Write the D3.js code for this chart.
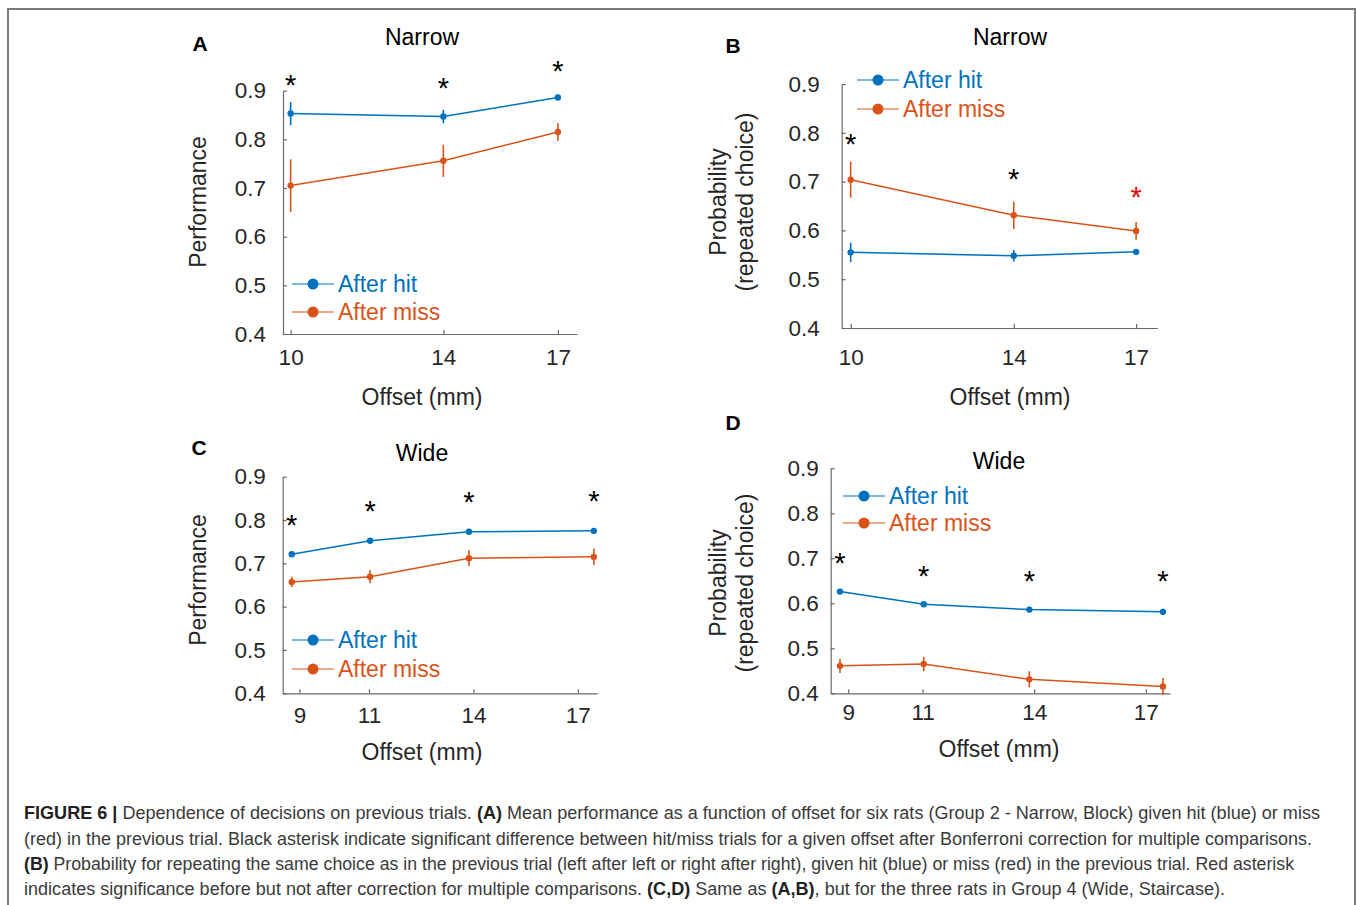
<!DOCTYPE html>
<html>
<head>
<meta charset="utf-8">
<script src="https://cdn.jsdelivr.net/npm/d3@7"></script>
<style>
  body { margin: 0; background: #fff; }
  svg { display: block; font-family: "Liberation Sans", Arial, Helvetica, sans-serif; }
</style>
</head>
<body>
<div id="chart"></div>
<script>
// offsets (mm)
const narrowOffsets = [10, 14, 17];
const wideOffsets = [8.78, 11.03, 13.87, 17.46];
const narrowTicks = [10, 14, 17];
const wideTicks = [9, 11, 14, 17];
const yTicks = [0.4, 0.5, 0.6, 0.7, 0.8, 0.9];

// A: performance, narrow
const perfNarrowHit = [0.853, 0.847, 0.886];
const perfNarrowHitErr = [0.024, 0.014, 0.003];
const perfNarrowMiss = [0.705, 0.756, 0.815];
const perfNarrowMissErr = [0.054, 0.033, 0.018];
const perfNarrowStars = [0.918, 0.912, 0.947];

// B: probability of repeated choice, narrow
const repNarrowHit = [0.555, 0.548, 0.556];
const repNarrowHitErr = [0.02, 0.012, 0.003];
const repNarrowMiss = [0.704, 0.631, 0.599];
const repNarrowMissErr = [0.037, 0.028, 0.018];
const repNarrowStars = [0.784, 0.711, 0.674];
const repNarrowStarColors = ["#000", "#000", "#e8000b"];

// C: performance, wide
const perfWideHit = [0.721, 0.752, 0.773, 0.775];
const perfWideHitErr = [0.004, 0.004, 0.004, 0.004];
const perfWideMiss = [0.657, 0.669, 0.712, 0.715];
const perfWideMissErr = [0.012, 0.015, 0.018, 0.019];
const perfWideStars = [0.796, 0.827, 0.849, 0.852];

// D: probability of repeated choice, wide
const repWideHit = [0.626, 0.598, 0.586, 0.581];
const repWideHitErr = [0.006, 0.005, 0.006, 0.007];
const repWideMiss = [0.461, 0.465, 0.431, 0.415];
const repWideMissErr = [0.016, 0.016, 0.018, 0.019];
const repWideStars = [0.696, 0.668, 0.657, 0.656];

const blue = "#0072bd";
const orange = "#d95319";
const axisColor = "#6a6a6a";
const textColor = "#262626";

const width = 1357, height = 905;
const svg = d3.select("#chart").append("svg")
  .attr("width", width)
  .attr("height", height);

// figure frame
svg.append("rect")
  .attr("x", 8).attr("y", 9)
  .attr("width", 1347).attr("height", 960)
  .attr("fill", "none")
  .attr("stroke", "#7a7a7a")
  .attr("stroke-width", 2);

const panels = [
  {
    letter: "A", lx: 200, ly: 44, title: "Narrow", tx: 422, ty: 37,
    left: 283, right: 577, top: 90.7, bottom: 334, xDomain: [9.8, 17.5],
    xs: narrowOffsets, ticks: narrowTicks,
    hit: perfNarrowHit, hitErr: perfNarrowHitErr, miss: perfNarrowMiss, missErr: perfNarrowMissErr,
    stars: perfNarrowStars, starColors: null,
    ylab: ["Performance"], ylabX: [198], ylabY: 202,
    xlabX: 422, xlabY: 397, xPad: 15, yPad: 17,
    legX: 292, legY: [284, 312]
  },
  {
    letter: "B", lx: 733, ly: 46, title: "Narrow", tx: 1010, ty: 37,
    left: 841.7, right: 1157.3, top: 84, bottom: 328, xDomain: [9.78, 17.52],
    xs: narrowOffsets, ticks: narrowTicks,
    hit: repNarrowHit, hitErr: repNarrowHitErr, miss: repNarrowMiss, missErr: repNarrowMissErr,
    stars: repNarrowStars, starColors: repNarrowStarColors,
    ylab: ["Probability", "(repeated choice)"], ylabX: [718, 745], ylabY: 202,
    xlabX: 1010, xlabY: 397, xPad: 21, yPad: 22,
    legX: 857, legY: [80, 109]
  },
  {
    letter: "C", lx: 199, ly: 448, title: "Wide", tx: 422, ty: 453,
    left: 282.7, right: 597, top: 476.7, bottom: 693.3, xDomain: [8.52, 17.55],
    xs: wideOffsets, ticks: wideTicks,
    hit: perfWideHit, hitErr: perfWideHitErr, miss: perfWideMiss, missErr: perfWideMissErr,
    stars: perfWideStars, starColors: null,
    ylab: ["Performance"], ylabX: [198], ylabY: 580,
    xlabX: 422, xlabY: 752, xPad: 14, yPad: 17,
    legX: 292, legY: [640, 669]
  },
  {
    letter: "D", lx: 733, ly: 423, title: "Wide", tx: 999, ty: 461,
    left: 830.7, right: 1170, top: 468.3, bottom: 693.3, xDomain: [8.53, 17.65],
    xs: wideOffsets, ticks: wideTicks,
    hit: repWideHit, hitErr: repWideHitErr, miss: repWideMiss, missErr: repWideMissErr,
    stars: repWideStars, starColors: null,
    ylab: ["Probability", "(repeated choice)"], ylabX: [718, 745], ylabY: 583,
    xlabX: 999, xlabY: 749, xPad: 11, yPad: 12,
    legX: 843, legY: [496, 523]
  }
];

panels.forEach(p => {
  const g = svg.append("g");
  const x = d3.scaleLinear().domain(p.xDomain).range([p.left, p.right]);
  const y = d3.scaleLinear().domain([0.4, 0.9]).range([p.bottom, p.top]);

  // axes
  const xAxis = g.append("g")
    .attr("transform", `translate(0,${p.bottom})`)
    .call(d3.axisBottom(x).tickValues(p.ticks).tickSizeInner(-4).tickSizeOuter(0).tickPadding(p.xPad));
  const yAxis = g.append("g")
    .attr("transform", `translate(${p.left},0)`)
    .call(d3.axisLeft(y).tickValues(yTicks).tickFormat(d3.format(".1f")).tickSizeInner(-4).tickSizeOuter(0).tickPadding(p.yPad));
  [xAxis, yAxis].forEach(a => {
    a.select(".domain").attr("stroke", axisColor).attr("stroke-width", 1.2);
    a.selectAll(".tick line").attr("stroke", axisColor).attr("stroke-width", 1.2);
    a.selectAll(".tick text")
      .attr("fill", textColor)
      .style("font-size", "22.5px")
      .style("font-family", "Liberation Sans, Arial, sans-serif");
  });

  // series
  const series = [
    { vals: p.hit, err: p.hitErr, color: blue },
    { vals: p.miss, err: p.missErr, color: orange }
  ];
  const line = d3.line().x(d => x(d[0])).y(d => y(d[1]));
  series.forEach(s => {
    const pts = p.xs.map((xv, i) => [xv, s.vals[i], s.err[i]]);
    g.append("path")
      .datum(pts)
      .attr("d", line)
      .attr("fill", "none")
      .attr("stroke", s.color)
      .attr("stroke-width", 1.5);
    g.selectAll(null)
      .data(pts)
      .enter()
      .append("line")
      .attr("x1", d => x(d[0])).attr("x2", d => x(d[0]))
      .attr("y1", d => y(d[1] - d[2])).attr("y2", d => y(d[1] + d[2]))
      .attr("stroke", s.color)
      .attr("stroke-width", 1.6);
    g.selectAll(null)
      .data(pts)
      .enter()
      .append("circle")
      .attr("cx", d => x(d[0]))
      .attr("cy", d => y(d[1]))
      .attr("r", 3.2)
      .attr("fill", s.color);
  });

  // significance asterisks
  g.selectAll(null)
    .data(p.stars)
    .enter()
    .append("text")
    .attr("x", (d, i) => x(p.xs[i]))
    .attr("y", d => y(d))
    .attr("dy", "0.45em")
    .attr("text-anchor", "middle")
    .attr("fill", (d, i) => p.starColors ? p.starColors[i] : "#000")
    .style("font-size", "29px")
    .text("*");

  // legend
  const legend = [["After hit", blue], ["After miss", orange]];
  legend.forEach((l, i) => {
    const ly = p.legY[i];
    g.append("line")
      .attr("x1", p.legX).attr("x2", p.legX + 42)
      .attr("y1", ly).attr("y2", ly)
      .attr("stroke", l[1]).attr("stroke-width", 1.2);
    g.append("circle")
      .attr("cx", p.legX + 21).attr("cy", ly).attr("r", 5.5)
      .attr("fill", l[1]);
    g.append("text")
      .attr("x", p.legX + 46).attr("y", ly)
      .attr("dy", "0.35em")
      .attr("fill", l[1])
      .style("font-size", "23px")
      .text(l[0]);
  });

  // titles and labels
  g.append("text")
    .attr("x", p.tx).attr("y", p.ty).attr("dy", "0.35em")
    .attr("text-anchor", "middle")
    .attr("fill", "#000")
    .style("font-size", "23px")
    .text(p.title);
  g.append("text")
    .attr("x", p.lx).attr("y", p.ly).attr("dy", "0.35em")
    .attr("text-anchor", "middle")
    .attr("fill", "#000")
    .style("font-size", "21px")
    .style("font-weight", "bold")
    .text(p.letter);
  g.append("text")
    .attr("x", p.xlabX).attr("y", p.xlabY).attr("dy", "0.35em")
    .attr("text-anchor", "middle")
    .attr("fill", textColor)
    .style("font-size", "23px")
    .text("Offset (mm)");
  p.ylab.forEach((t, i) => {
    g.append("text")
      .attr("transform", `translate(${p.ylabX[i]},${p.ylabY}) rotate(-90)`)
      .attr("dy", "0.35em")
      .attr("text-anchor", "middle")
      .attr("fill", textColor)
      .style("font-size", "23px")
      .text(t);
  });
});

// caption
const captionLines = [
  [["FIGURE 6 | ", true], ["Dependence of decisions on previous trials. ", false], ["(A)", true], [" Mean performance as a function of offset for six rats (Group 2 - Narrow, Block) given hit (blue) or miss", false]],
  [["(red) in the previous trial. Black asterisk indicate significant difference between hit/miss trials for a given offset after Bonferroni correction for multiple comparisons.", false]],
  [["(B)", true], [" Probability for repeating the same choice as in the previous trial (left after left or right after right), given hit (blue) or miss (red) in the previous trial. Red asterisk", false]],
  [["indicates significance before but not after correction for multiple comparisons. ", false], ["(C,D)", true], [" Same as ", false], ["(A,B)", true], [", but for the three rats in Group 4 (Wide, Staircase).", false]]
];
const captionY = [819, 845, 870, 895];
const captionW = [1296, 1288, 1270, 1201];

captionLines.forEach((parts, i) => {
  const t = svg.append("text")
    .attr("x", 24).attr("y", captionY[i])
    .attr("textLength", captionW[i])
    .attr("lengthAdjust", "spacingAndGlyphs")
    .attr("fill", "#3a3a3a")
    .style("font-size", "17.5px")
    .attr("xml:space", "preserve");
  parts.forEach(pt => {
    t.append("tspan")
      .style("font-weight", pt[1] ? "bold" : "normal")
      .attr("fill", pt[1] ? "#222" : "#3a3a3a")
      .text(pt[0]);
  });
});
</script>
</body>
</html>
